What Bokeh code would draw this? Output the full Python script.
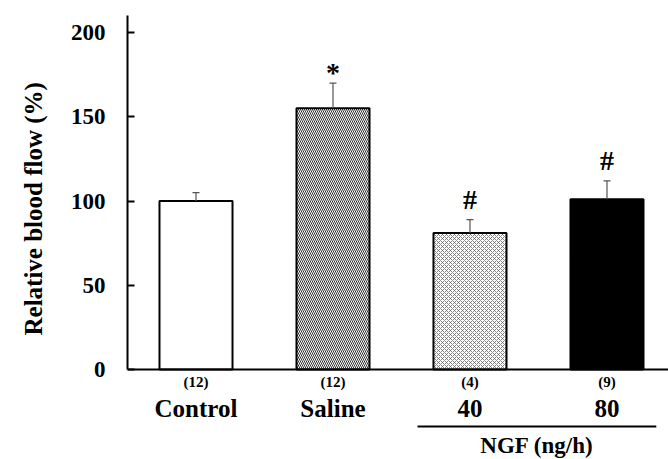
from bokeh.plotting import figure
from bokeh.models import Range1d, FixedTicker, Span, Title
from bokeh.core.properties import value
from bokeh.embed import file_html
from bokeh.resources import INLINE

categories = ["Control", "Saline", "40", "80"]
n_labels = ["(12)", "(12)", "(4)", "(9)"]
means = [100, 155, 81, 101]
errors = [5, 15, 8, 11]
sig_marks = ["", "*", "#", "#"]
y_ticks = [0, 50, 100, 150, 200]
y_title = "Relative blood flow (%)"

FONT = "Liberation Serif"

xs = [i + 1 for i in range(len(categories))]
tops = [m + e for m, e in zip(means, errors)]
sig_gap = [12, 6, 12, 12]

p = figure(width=668, height=459, output_backend="svg", toolbar_location=None,
           x_range=Range1d(0.5, 4.449), y_range=Range1d(-53.4, 210.1),
           min_border_left=127, min_border_right=0, min_border_top=15, min_border_bottom=0)
p.outline_line_color = None
p.grid.visible = False
p.xaxis.visible = False
p.background_fill_color = "white"
p.border_fill_color = "white"

ya = p.yaxis[0]
ya.ticker = FixedTicker(ticks=y_ticks)
ya.bounds = (0, 210.1)
ya.major_tick_in = 7
ya.major_tick_out = 0
ya.minor_tick_in = 0
ya.minor_tick_out = 0
ya.major_label_standoff = 22
ya.major_label_text_font = FONT
ya.major_label_text_font_style = "bold"
ya.major_label_text_font_size = "23px"
ya.major_label_text_color = "black"
ya.axis_line_width = 2
ya.major_tick_line_width = 2
ya.axis_line_color = "black"

# y title placed in the left panel, offset upwards from the bottom
p.add_layout(Title(text=y_title, align="left", vertical_align="top", offset=124, standoff=37,
                   text_font=FONT, text_font_style="bold", text_font_size="25px",
                   text_color="black"), "left")

w = 0.533
fills = ["white", "white", "white", "black"]
hatches = [" ", "\\", "x", " "]
hatch_scales = [4, 4, 4, 4]
hatch_colors = ["black", "#333333", "#666666", "black"]
hatch_weights = [1, 1, 0.8, 1]
for i in range(len(categories)):
    p.vbar(x=[xs[i]], top=[means[i]], bottom=0, width=w,
           fill_color=fills[i], line_color="black", line_width=2,
           hatch_pattern=hatches[i], hatch_scale=hatch_scales[i],
           hatch_color=hatch_colors[i], hatch_weight=hatch_weights[i])

# error bars (upper only)
p.segment(x0=xs, y0=means, x1=xs, y1=tops, line_color="#555555", line_width=1.2)
p.scatter(x=xs, y=tops, marker="dash", size=7, line_color="#555555", line_width=1.2)

# significance marks
p.text(x=xs, y=[t + g for t, g in zip(tops, sig_gap)], text=sig_marks, text_font=value(FONT),
       text_font_style="bold", text_font_size="28px", text_align="center",
       text_baseline="middle", text_color="black")

# baseline (x axis line)
p.add_layout(Span(location=0, dimension="width", line_color="black", line_width=2))

# n labels and category labels
p.text(x=xs, y=[-7.7] * 4, text=n_labels, text_font=value(FONT),
       text_font_style="bold", text_font_size="15px", text_align="center",
       text_baseline="middle", text_color="black")
p.text(x=xs, y=[-23] * 4, text=categories, text_font=value(FONT),
       text_font_style="bold", text_font_size="25px", text_align="center",
       text_baseline="middle", text_color="black")

# NGF group line and label
p.segment(x0=[2.617], y0=[-33.8], x1=[4.36], y1=[-33.8], line_color="black", line_width=2)
p.text(x=[(2.617 + 4.36) / 2], y=[-45], text=["NGF (ng/h)"], text_font=value(FONT),
       text_font_style="bold", text_font_size="23px", text_align="center",
       text_baseline="middle", text_color="black")

open("out.html", "w").write(file_html(p, INLINE))
